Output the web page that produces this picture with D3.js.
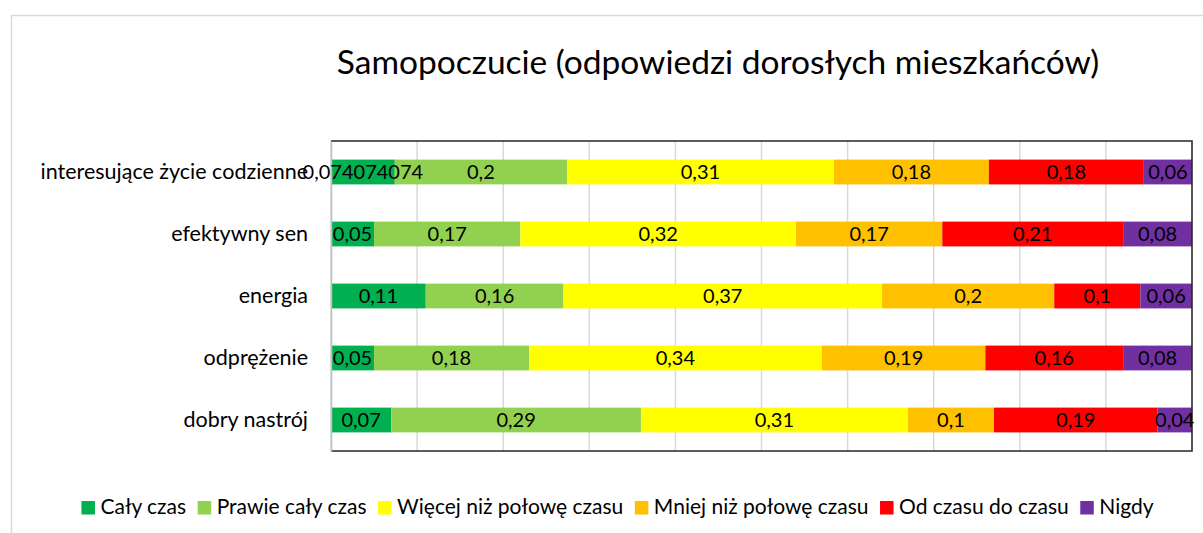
<!DOCTYPE html>
<html>
<head>
<meta charset="utf-8">
<script src="https://cdn.jsdelivr.net/npm/d3@7"></script>
<style>
  html, body { margin: 0; padding: 0; background: #fff; }
  svg text { font-family: Lato, "Open Sans", sans-serif; fill: #000; }
</style>
</head>
<body>
<svg id="chart" width="1203" height="533"></svg>
<script>
// Catégories (de haut en bas)
const categories = ["interesujące życie codzienne", "efektywny sen", "energia", "odprężenie", "dobry nastrój"];

// Séries
const seriesNames = ["Cały czas", "Prawie cały czas", "Więcej niż połowę czasu", "Mniej niż połowę czasu", "Od czasu do czasu", "Nigdy"];
const calyCzas = [0.074074074, 0.05, 0.11, 0.05, 0.07];
const prawieCalyCzas = [0.2, 0.17, 0.16, 0.18, 0.29];
const wiecejNizPolowe = [0.31, 0.32, 0.37, 0.34, 0.31];
const mniejNizPolowe = [0.18, 0.17, 0.2, 0.19, 0.1];
const odCzasuDoCzasu = [0.18, 0.21, 0.1, 0.16, 0.19];
const nigdy = [0.06, 0.08, 0.06, 0.08, 0.04];
const xTicks = [0, 0.1, 0.2, 0.3, 0.4, 0.5, 0.6, 0.7, 0.8, 0.9, 1];

const colors = ["#00B050", "#92D050", "#FFFF00", "#FFC000", "#FF0000", "#7030A0"];
const allSeries = [calyCzas, prawieCalyCzas, wiecejNizPolowe, mniejNizPolowe, odCzasuDoCzasu, nigdy];

// Table pour d3.stack
const table = categories.map((c, i) => {
    const row = { cat: c };
    seriesNames.forEach((s, j) => row[s] = allSeries[j][i]);
    return row;
});

const svg = d3.select("#chart");

// Cadre extérieur
svg.append("rect")
    .attr("x", 11.5).attr("y", 15.5)
    .attr("width", 1300).attr("height", 600)
    .attr("fill", "none")
    .attr("stroke", "#d9d9d9")
    .attr("stroke-width", 1.5);

const plot = { left: 331, right: 1192, top: 141, bottom: 451 };

const xScale = d3.scaleLinear().domain([0, 1]).range([plot.left, plot.right]);
const yScale = d3.scaleBand()
    .domain(categories)
    .range([plot.top, plot.bottom])
    .paddingInner(0.6)
    .paddingOuter(0.3);

// Titre
svg.append("text")
    .attr("x", 718).attr("y", 74)
    .attr("text-anchor", "middle")
    .style("font-size", "33.5px")
    .text("Samopoczucie (odpowiedzi dorosłych mieszkańców)");

// Grille verticale
svg.append("g")
    .selectAll("line")
    .data(xTicks)
    .enter().append("line")
    .attr("x1", d => xScale(d)).attr("x2", d => xScale(d))
    .attr("y1", plot.top).attr("y2", plot.bottom)
    .attr("stroke", "#d9d9d9")
    .attr("stroke-width", 1.5);

// Barres empilées
const stacked = d3.stack().keys(seriesNames)(table);

svg.append("clipPath").attr("id", "clip")
    .append("rect")
    .attr("x", plot.left).attr("y", plot.top)
    .attr("width", plot.right - plot.left).attr("height", plot.bottom - plot.top);

const layers = svg.append("g")
    .attr("clip-path", "url(#clip)")
    .selectAll("g")
    .data(stacked)
    .enter().append("g")
    .attr("fill", (d, i) => colors[i]);

layers.selectAll("rect")
    .data(d => d)
    .enter().append("rect")
    .attr("x", d => xScale(d[0]))
    .attr("y", d => yScale(d.data.cat))
    .attr("width", d => xScale(d[1]) - xScale(d[0]))
    .attr("height", yScale.bandwidth());

// Bordure de la zone de tracé
const border = svg.append("g").attr("stroke", "#262626").attr("stroke-width", 1.5).attr("fill", "none");
border.append("path")
    .attr("d", `M${plot.left},${plot.top}H${plot.right}V${plot.bottom}H${plot.left}`);

// Axe des catégories
const yAxis = svg.append("g")
    .attr("transform", `translate(${plot.left}, 0)`)
    .call(d3.axisLeft(yScale).tickSize(0).tickPadding(23));

yAxis.select(".domain").attr("stroke", "#bfbfbf").attr("stroke-width", 1.5);
yAxis.selectAll("text")
    .style("font-family", "Lato, sans-serif")
    .style("font-size", "21.5px")
    .attr("fill", "#000");

// Étiquettes de données
stacked.forEach((layer, j) => {
    svg.append("g")
        .selectAll("text")
        .data(layer)
        .enter().append("text")
        .attr("x", d => (xScale(d[0]) + xScale(Math.min(d[1], 1))) / 2)
        .attr("y", d => yScale(d.data.cat) + yScale.bandwidth() / 2)
        .attr("dy", "0.36em")
        .attr("text-anchor", "middle")
        .style("font-size", "20px")
        .text(d => String(d.data[layer.key]).replace(".", ","));
});

// Légende
const legend = svg.append("g");
const items = legend.selectAll("g")
    .data(seriesNames)
    .enter().append("g");

items.append("rect")
    .attr("width", 13.5).attr("height", 13.5)
    .attr("y", 501)
    .attr("fill", (d, i) => colors[i]);

items.append("text")
    .attr("x", 19)
    .attr("y", 514)
    .style("font-size", "21px")
    .text(d => d);

let widths = [];
items.each(function () { widths.push(this.querySelector("text").getComputedTextLength()); });
const gap = 11.5;
const total = d3.sum(widths, w => 19 + w) + gap * (widths.length - 1);
let cursor = 617.5 - total / 2;
items.attr("transform", (d, i) => {
    const t = `translate(${cursor}, 0)`;
    cursor += 19 + widths[i] + gap;
    return t;
});
</script>
</body>
</html>
